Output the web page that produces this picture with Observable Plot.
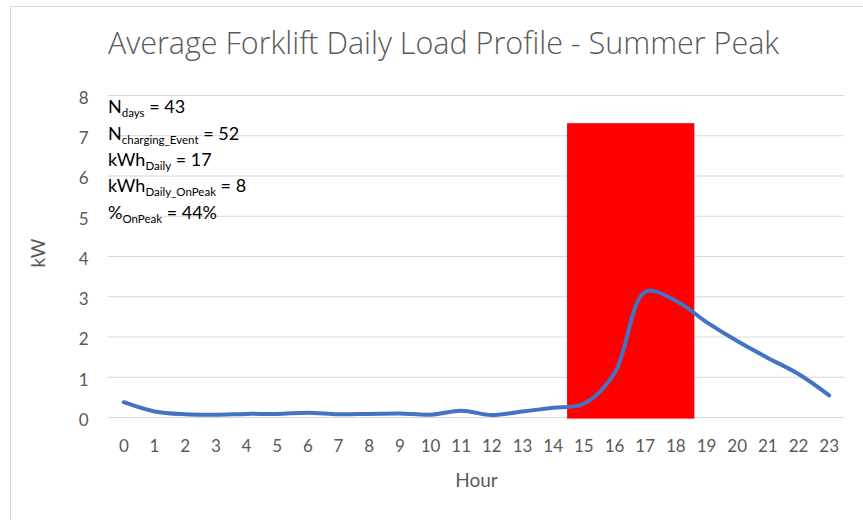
<!DOCTYPE html>
<html>
<head>
<meta charset="utf-8">
<script src="https://cdn.jsdelivr.net/npm/d3@7"></script>
<script src="https://cdn.jsdelivr.net/npm/@observablehq/plot@0.6"></script>
<style>
  html, body { margin: 0; padding: 0; background: #fff; overflow: hidden; }
  #wrap { position: relative; width: 863px; height: 520px; overflow: hidden; }
  #border { position: absolute; left: 10px; top: 6px; width: 900px; height: 600px; border: 1px solid #d9d9d9; box-sizing: border-box; }
  #chart { position: absolute; left: 0; top: 0; }
</style>
</head>
<body>
<div id="wrap"><div id="border"></div><div id="chart"></div></div>
<script>
const titleText = "Average Forklift Daily Load Profile - Summer Peak";
const xLabel = "Hour";
const yLabel = "kW";
const hours = [0,1,2,3,4,5,6,7,8,9,10,11,12,13,14,15,16,17,18,19,20,21,22,23];
const kW = [0.38,0.15,0.08,0.07,0.09,0.09,0.12,0.08,0.09,0.10,0.07,0.17,0.06,0.15,0.24,0.34,1.10,3.12,2.90,2.37,1.90,1.48,1.08,0.55];
const yTicks = [0,1,2,3,4,5,6,7,8];
const peakStart = 14.47, peakEnd = 18.62, peakTop = 7.3, peakBottom = -0.04;
const annoMain = ["N","N","kWh","kWh","%"];
const annoSub = ["days","charging_Event","Daily","Daily_OnPeak","OnPeak"];
const annoValue = [" = 43"," = 52"," = 17"," = 8"," = 44%"];

const data = hours.map((h, i) => ({hour: h, kw: kW[i]}));
const peak = [{x1: peakStart, x2: peakEnd, y1: peakBottom, y2: peakTop}];

function annotations(index, scales, values, dims) {
  const g = d3.create("svg:g")
    .attr("font-family", "Lato, sans-serif")
    .attr("text-anchor", "start")
    .attr("fill", "#000");
  annoMain.forEach((m, i) => {
    const t = g.append("text")
      .attr("x", dims.marginLeft)
      .attr("y", dims.marginTop + 18.3 + i * 26.3)
      .attr("font-size", 18);
    t.append("tspan").text(m);
    t.append("tspan").attr("font-size", 11.5).attr("dy", 4).text(annoSub[i]);
    t.append("tspan").attr("dy", -4).text(annoValue[i]);
  });
  return g.node();
}

const chart = Plot.plot({
  width: 863,
  height: 520,
  marginLeft: 108,
  marginRight: 19,
  marginTop: 95,
  marginBottom: 103,
  style: {fontFamily: "Lato, sans-serif", fontSize: "17px", color: "#595959", background: "transparent", overflow: "visible"},
  x: {domain: [-0.5, 23.5]},
  y: {domain: [0, 8]},
  marks: [
    Plot.gridY(yTicks, {stroke: "#d9d9d9", strokeOpacity: 1, strokeWidth: 1}),
    Plot.axisY(yTicks, {tickSize: 0, tickPadding: 20, dy: 3, label: null, fontSize: 17}),
    Plot.axisX(hours, {tickSize: 0, tickPadding: 22, label: null, fontSize: 17}),
    Plot.rect(peak, {x1: "x1", x2: "x2", y1: "y1", y2: "y2", fill: "#FF0000"}),
    Plot.line(data, {x: "hour", y: "kw", stroke: "#4472C4", strokeWidth: 4, curve: "catmull-rom", strokeLinecap: "round", strokeLinejoin: "round"}),
    Plot.text([titleText], {frameAnchor: "top", dx: -33, dy: -51, fontSize: 30.5, fontFamily: "Open Sans, sans-serif", fontWeight: 300, fill: "#595959", lineAnchor: "middle"}),
    Plot.text([xLabel], {frameAnchor: "bottom", dy: 63, fontSize: 19, fill: "#595959", lineAnchor: "middle"}),
    Plot.text([yLabel], {frameAnchor: "left", dx: -70, dy: 11, rotate: -90, fontSize: 19, fill: "#595959", lineAnchor: "middle"}),
    annotations
  ]
});
document.getElementById("chart").appendChild(chart);
</script>
</body>
</html>
